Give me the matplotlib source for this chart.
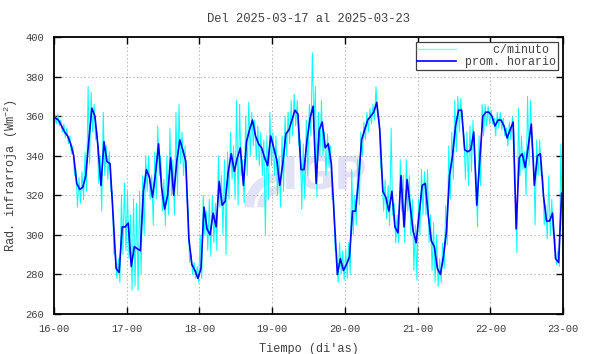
import numpy as np
import matplotlib
matplotlib.use("Agg")
import matplotlib.pyplot as plt
from matplotlib.patches import Arc

plt.rcParams['font.family'] = ['Liberation Mono', 'DejaVu Sans Mono']
plt.rcParams['mathtext.default'] = 'regular'

# promedio horario (Wm-2), un valor por hora, dia 16 a 22
horario_16 = [359, 358, 355, 352, 350, 346, 340, 326, 323, 324, 330, 348, 364, 360, 345, 325, 347, 337, 336, 310, 283, 281, 304, 304]
horario_17 = [306, 284, 294, 293, 292, 322, 333, 329, 319, 331, 346, 324, 313, 320, 339, 320, 337, 348, 343, 337, 298, 285, 282, 278]
horario_18 = [283, 314, 303, 300, 311, 304, 327, 315, 317, 332, 341, 332, 339, 344, 325, 347, 353, 358, 350, 346, 344, 339, 335, 350]
horario_19 = [344, 338, 325, 336, 351, 353, 358, 363, 361, 333, 333, 348, 359, 365, 326, 353, 357, 344, 346, 336, 308, 280, 288, 282]
horario_20 = [285, 289, 312, 312, 328, 348, 353, 358, 360, 362, 367, 353, 322, 319, 312, 322, 304, 301, 330, 304, 328, 315, 302, 296]
horario_21 = [311, 325, 326, 310, 297, 294, 283, 280, 289, 302, 330, 340, 355, 363, 363, 343, 342, 343, 352, 315, 338, 360, 362, 362]
horario_22 = [360, 355, 358, 358, 355, 349, 353, 357, 303, 339, 341, 334, 345, 356, 325, 340, 341, 320, 307, 307, 311, 288, 286, 321]

alto_16 = [361, 361, 358, 356, 354, 350, 345, 333, 329, 332, 342, 375, 372, 366, 352, 340, 362, 345, 342, 322, 292, 288, 320, 326]
bajo_16 = [356, 355, 352, 349, 346, 341, 330, 314, 316, 318, 322, 336, 352, 348, 326, 312, 330, 328, 322, 290, 278, 276, 290, 292]
alto_17 = [322, 310, 318, 316, 322, 330, 340, 340, 330, 342, 355, 340, 328, 340, 354, 338, 362, 366, 352, 345, 312, 290, 286, 284]
bajo_17 = [288, 272, 274, 272, 280, 300, 322, 318, 305, 318, 330, 312, 305, 310, 320, 310, 320, 336, 330, 320, 286, 280, 278, 276]
alto_18 = [300, 320, 312, 318, 320, 316, 340, 330, 338, 342, 352, 345, 368, 366, 338, 360, 367, 362, 358, 355, 352, 348, 350, 362]
bajo_18 = [278, 300, 292, 289, 296, 292, 314, 300, 290, 318, 328, 318, 315, 330, 316, 330, 340, 345, 338, 335, 330, 300, 318, 335]
alto_19 = [352, 350, 340, 350, 360, 362, 368, 371, 368, 348, 346, 358, 366, 392, 375, 362, 368, 352, 351, 345, 318, 292, 296, 292]
bajo_19 = [330, 320, 314, 322, 340, 346, 350, 355, 345, 313, 318, 330, 350, 355, 319, 340, 340, 330, 334, 318, 292, 276, 280, 277]
alto_20 = [293, 296, 333, 320, 338, 352, 357, 362, 364, 366, 375, 360, 330, 328, 325, 354, 316, 310, 338, 330, 338, 330, 318, 305]
bajo_20 = [278, 280, 300, 305, 315, 340, 348, 352, 356, 358, 360, 335, 312, 308, 305, 310, 296, 296, 312, 296, 312, 300, 282, 277]
alto_21 = [318, 333, 332, 333, 310, 306, 300, 288, 296, 315, 345, 352, 368, 370, 369, 350, 352, 355, 358, 330, 350, 366, 366, 365]
bajo_21 = [300, 310, 310, 296, 282, 276, 274, 276, 283, 295, 318, 328, 342, 352, 356, 328, 325, 332, 340, 304, 325, 350, 355, 356]
alto_22 = [363, 359, 362, 362, 359, 354, 357, 360, 320, 364, 350, 342, 370, 368, 340, 348, 348, 330, 315, 330, 318, 300, 292, 346]
bajo_22 = [356, 350, 354, 353, 350, 345, 348, 352, 291, 330, 333, 320, 335, 345, 305, 330, 330, 305, 298, 300, 300, 285, 284, 300]

dias = [16, 17, 18, 19, 20, 21, 22]
x_ticks = [16, 17, 18, 19, 20, 21, 22, 23]
x_labels = ["16-00", "17-00", "18-00", "19-00", "20-00", "21-00", "22-00", "23-00"]
y_ticks = [260, 280, 300, 320, 340, 360, 380, 400]

horario = np.concatenate([horario_16, horario_17, horario_18, horario_19,
                          horario_20, horario_21, horario_22])
alto = np.concatenate([alto_16, alto_17, alto_18, alto_19, alto_20, alto_21, alto_22])
bajo = np.concatenate([bajo_16, bajo_17, bajo_18, bajo_19, bajo_20, bajo_21, bajo_22])

horas = np.arange(len(horario))
t_hor = dias[0] + (horas + 0.5) / 24.0
t_min = np.empty(2 * len(horas))
t_min[0::2] = dias[0] + (horas + 0.25) / 24.0
t_min[1::2] = dias[0] + (horas + 0.75) / 24.0
v_min = np.empty(2 * len(horas))
v_min[0::2] = alto
v_min[1::2] = bajo

gris = '#404040'
fig = plt.figure(figsize=(5.9, 3.54), dpi=100)
ax = fig.add_axes([0.0915, 0.113, 0.863, 0.7825])

# marca de agua
ax.text(19.72, 329, "IGP", fontsize=32, fontweight='bold', family='DejaVu Sans',
        color='#e2e2f6', ha='center', va='center', zorder=0)
for r, lw in [(30, 7), (18, 6)]:
    ax.add_patch(Arc((19.1, 314), 2 * r / 72.6, 2 * r / 1.98, theta1=90, theta2=200,
                     lw=lw, color='#e2e2f6', zorder=0))

ax.plot(t_min, v_min, color='#00ffff', lw=0.7, label="    c/minuto", zorder=2)
ax.plot(t_hor, horario, color='#0000ff', lw=1.2, label="prom. horario", zorder=3)

ax.set_xlim(16, 23)
ax.set_ylim(260, 400)
ax.set_xticks(x_ticks)
ax.set_xticklabels(x_labels)
ax.set_yticks(y_ticks)
ax.tick_params(direction='in', top=True, right=True, length=5, width=1,
               labelsize=7.6, labelcolor=gris)
ax.tick_params(axis='x', pad=7)
ax.tick_params(axis='y', pad=7)
ax.grid(True, linestyle=(0, (1.5, 3)), color='#a0a0a0', lw=0.6)
for s in ax.spines.values():
    s.set_linewidth(1.3)

ax.set_title("Del 2025-03-17 al 2025-03-23", fontsize=8.7, color=gris, pad=11)
ax.set_xlabel("Tiempo (di'as)", fontsize=8.6, color=gris, labelpad=7)
ax.set_ylabel("Rad. infrarroja (Wm$^{-2}$)", fontsize=8.6, color=gris, labelpad=4)

leg = ax.legend(loc='upper right', fontsize=8.4, handlelength=3.3, fancybox=False,
                framealpha=1, edgecolor='#404040', borderpad=0.15, labelspacing=0.0,
                borderaxespad=0.45, handletextpad=0.8)
leg.get_frame().set_linewidth(0.9)
leg.get_lines()[0].set_color('#80ffff')
leg.get_lines()[0].set_linewidth(1.0)
for t in leg.get_texts():
    t.set_color(gris)

fig.savefig("out.png", dpi=100)
